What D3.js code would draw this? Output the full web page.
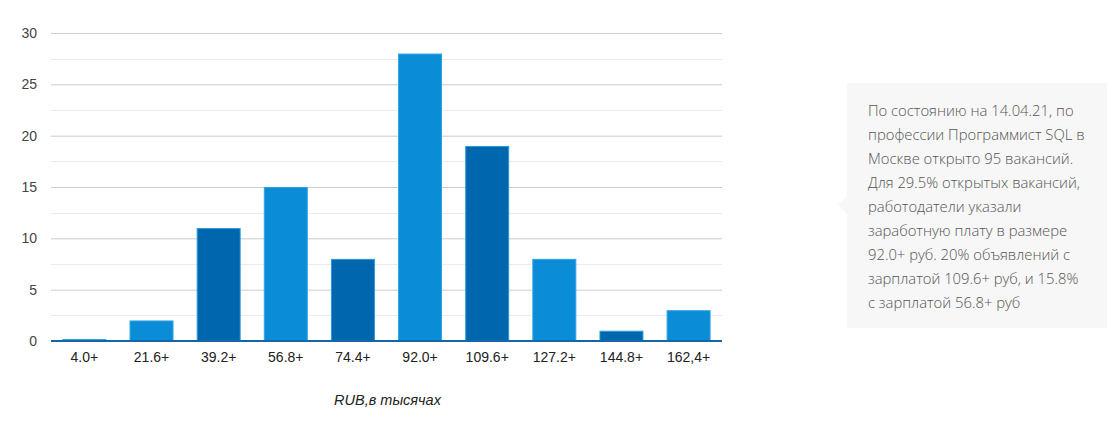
<!DOCTYPE html>
<html>
<head>
<meta charset="utf-8">
<script src="https://cdn.jsdelivr.net/npm/d3@7"></script>
<style>
  html, body { margin: 0; padding: 0; background: #fff; }
  svg { display: block; }
</style>
</head>
<body>
<svg id="chart" width="1120" height="422"></svg>
<script>
const categories = ["4.0+", "21.6+", "39.2+", "56.8+", "74.4+", "92.0+", "109.6+", "127.2+", "144.8+", "162,4+"];
const values = [0, 2, 11, 15, 8, 28, 19, 8, 1, 3];
const shades = ["light", "light", "dark", "light", "dark", "light", "dark", "light", "dark", "light"];
const yTicks = [0, 5, 10, 15, 20, 25, 30];
const minorTicks = [2.5, 7.5, 12.5, 17.5, 22.5, 27.5];
const axisTitle = "RUB,в тысячах";
const noteLines = [
  "По состоянию на 14.04.21, по",
  "профессии Программист SQL в",
  "Москве открыто 95 вакансий.",
  "Для 29.5% открытых вакансий,",
  "работодатели указали",
  "заработную плату в размере",
  "92.0+ руб. 20% объявлений с",
  "зарплатой 109.6+ руб, и 15.8%",
  "с зарплатой 56.8+ руб"
];

const svg = d3.select("#chart");
const plot = { left: 51, right: 722, top: 33, bottom: 341 };

const x = d3.scaleBand().domain(categories).range([plot.left, plot.right]).paddingInner(0.345).paddingOuter(0.17);
const y = d3.scaleLinear().domain([0, 30]).range([plot.bottom, plot.top]);

const fill = { light: "#0a8dd6", dark: "#0066ae" };
const stroke = { light: "#2fa3e4", dark: "#2a9ad8" };

// minor gridlines
svg.append("g").selectAll("line").data(minorTicks).join("line")
  .attr("x1", plot.left).attr("x2", plot.right)
  .attr("y1", d => Math.round(y(d)) + 0.5).attr("y2", d => Math.round(y(d)) + 0.5)
  .attr("stroke", "#ebebeb").attr("stroke-width", 1);

// major gridlines via axis
const yAxis = d3.axisLeft(y).tickValues(yTicks).tickSize(-(plot.right - plot.left)).tickPadding(14);
const gy = svg.append("g").attr("transform", `translate(${plot.left},0)`).call(yAxis);
gy.select(".domain").remove();
gy.selectAll(".tick line").attr("stroke", "#cccccc");
gy.selectAll(".tick text")
  .attr("font-family", "Arial, 'Liberation Sans', sans-serif")
  .attr("font-size", 14).attr("fill", "#444");

// bars
svg.append("g").selectAll("rect").data(categories).join("rect")
  .attr("x", d => x(d) + 0.5)
  .attr("width", x.bandwidth() - 1)
  .attr("y", (d, i) => Math.min(y(values[i]), plot.bottom - 2) + 0.5)
  .attr("height", (d, i) => Math.max(plot.bottom - y(values[i]), 2) - 0.5)
  .attr("fill", (d, i) => fill[shades[i]])
  .attr("stroke", (d, i) => stroke[shades[i]])
  .attr("stroke-width", 1);

// x axis
const xAxis = d3.axisBottom(x).tickSize(0).tickPadding(11);
const gx = svg.append("g").attr("transform", `translate(0,${plot.bottom})`).call(xAxis);
gx.select(".domain").attr("stroke", "#1565a8").attr("stroke-width", 2).attr("d", `M${plot.left},0H${plot.right}`);
gx.selectAll(".tick text")
  .attr("font-family", "Arial, 'Liberation Sans', sans-serif")
  .attr("font-size", 14).attr("fill", "#222");

// axis title
svg.append("text")
  .attr("x", (plot.left + plot.right) / 2 + 1).attr("y", 405)
  .attr("text-anchor", "middle")
  .attr("font-family", "Arial, 'Liberation Sans', sans-serif")
  .attr("font-style", "italic").attr("font-size", 14.5).attr("fill", "#222")
  .text(axisTitle);

// note box
const box = { x: 847, y: 83, w: 260, h: 245 };
const note = svg.append("g");
note.append("rect").attr("x", box.x).attr("y", box.y).attr("width", box.w).attr("height", box.h).attr("fill", "#f7f7f7");
note.append("path")
  .attr("d", `M${box.x},${196}L${box.x - 9},${205}L${box.x},${214}Z`)
  .attr("fill", "#f7f7f7");
note.append("g").selectAll("text").data(noteLines).join("text")
  .attr("x", 868)
  .attr("y", (d, i) => 116 + i * 24)
  .attr("font-family", "'Open Sans', 'Noto Sans', sans-serif")
  .attr("font-weight", 300)
  .attr("font-size", 14.8).attr("fill", "#555")
  .text(d => d);
</script>
</body>
</html>
